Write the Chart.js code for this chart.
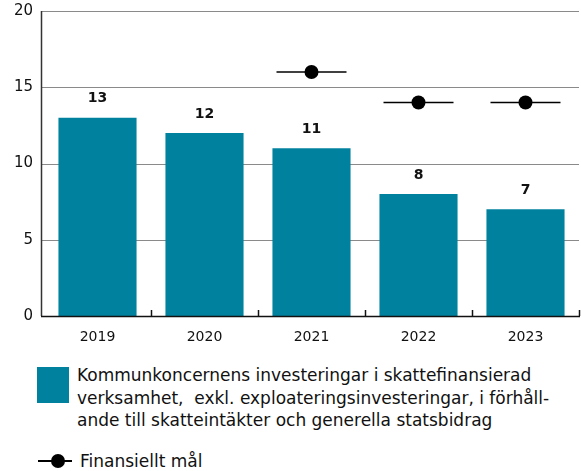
<!DOCTYPE html>
<html><head><meta charset="utf-8">
<script src="https://cdn.jsdelivr.net/npm/chart.js@4"></script>
<style>
html,body{margin:0;padding:0;background:#fff;}
#wrap{position:relative;width:581px;height:350px;}
.leg{position:absolute;font-family:"DejaVu Sans",sans-serif;color:#111;}
#sq{left:37px;top:367px;width:32px;height:36px;background:#00829f;}
#t1{left:77px;top:364px;font-size:17px;line-height:22.5px;width:510px;white-space:nowrap;}
#ln{left:38px;top:460px;width:34px;height:1.5px;background:#000;}
#dot{left:51px;top:454px;width:14px;height:14px;border-radius:50%;background:#000;}
#t2{left:80px;top:451px;font-size:17px;}
</style></head><body>
<div id="wrap"><canvas id="c" width="581" height="350"></canvas></div>
<div class="leg" id="sq"></div>
<div class="leg" id="t1">Kommunkoncernens investeringar i skattefinansierad<br>verksamhet,&nbsp; exkl. exploateringsinvesteringar, i förhåll-<br>ande till skatteintäkter och generella statsbidrag</div>
<div class="leg" id="ln"></div>
<div class="leg" id="dot"></div>
<div class="leg" id="t2">Finansiellt mål</div>
<script>
const categories = ["2019","2020","2021","2022","2023"];
const investments = [13,12,11,8,7];
const target = [null,null,16,14,14];
const yTicks = [0,5,10,15,20];
const AXIS_X = 41;

const labelPlugin = {
  id:'labels',
  beforeDatasetsDraw(chart){
    const ctx = chart.ctx;
    const x = chart.scales.x, y = chart.scales.y;
    ctx.save();
    ctx.strokeStyle = '#8a8a8a';
    ctx.lineWidth = 1.2;
    yTicks.forEach(v=>{
      if(v===0) return;
      const py = Math.round(y.getPixelForValue(v))+0.5;
      ctx.beginPath();
      ctx.moveTo(AXIS_X, py);
      ctx.lineTo(x.right, py);
      ctx.stroke();
    });
    ctx.restore();
  },
  afterDatasetsDraw(chart){
    const ctx = chart.ctx;
    const meta = chart.getDatasetMeta(0);
    ctx.save();
    ctx.font = 'bold 14px "DejaVu Sans"';
    ctx.fillStyle = '#111';
    ctx.textAlign = 'center';
    ctx.textBaseline = 'middle';
    meta.data.forEach((bar,i)=>{
      ctx.fillText(String(investments[i]), bar.x, bar.y - 19);
    });
    ctx.restore();
  },
  afterDraw(chart){
    const ctx = chart.ctx;
    const x = chart.scales.x, y = chart.scales.y;
    ctx.save();
    ctx.lineWidth = 1.5;
    ctx.strokeStyle = '#333';
    ctx.beginPath();
    ctx.moveTo(AXIS_X+0.5, y.top);
    ctx.lineTo(AXIS_X+0.5, y.bottom);
    ctx.stroke();
    ctx.strokeStyle = '#111';
    ctx.beginPath();
    ctx.moveTo(AXIS_X, y.bottom+0.5);
    ctx.lineTo(x.right+1, y.bottom+0.5);
    ctx.stroke();
    const step = x.getPixelForValue(1) - x.getPixelForValue(0);
    for(let i=1;i<=categories.length;i++){
      const px = Math.round(x.getPixelForValue(i) - step/2)+0.5;
      ctx.beginPath();
      ctx.moveTo(px, y.bottom);
      ctx.lineTo(px, y.bottom-6);
      ctx.stroke();
    }
    ctx.restore();
  }
};

new Chart(document.getElementById('c'),{
  type:'bar',
  data:{
    labels:categories,
    datasets:[
      {type:'bar',data:investments,backgroundColor:'#00829f',categoryPercentage:0.73,barPercentage:1,order:2},
      {type:'line',data:target,showLine:false,pointStyle:'line',pointRadius:35,pointHoverRadius:35,borderColor:'#000',borderWidth:1.5,order:1},
      {type:'line',data:target,showLine:false,pointStyle:'circle',pointRadius:7,pointHoverRadius:7,backgroundColor:'#000',borderColor:'#000',borderWidth:0,order:0}
    ]
  },
  options:{
    responsive:false,animation:false,
    layout:{autoPadding:false,padding:{left:0,right:2,top:0,bottom:0}},
    plugins:{legend:{display:false},tooltip:{enabled:false}},
    scales:{
      x:{
        grid:{display:false},
        border:{display:false},
        ticks:{color:'#111',font:{family:'DejaVu Sans',size:14},padding:5},
        afterFit(s){s.height=34;}
      },
      y:{
        min:0,max:20,
        afterBuildTicks(s){s.ticks=yTicks.map(v=>({value:v}));},
        grid:{display:false,drawTicks:false},
        border:{display:false},
        ticks:{color:'#111',font:{family:'DejaVu Sans',size:15},padding:11},
        afterFit(s){s.width=44;s.paddingTop=11;s.paddingBottom=0;}
      }
    }
  },
  plugins:[labelPlugin]
});
</script>
</body></html>
